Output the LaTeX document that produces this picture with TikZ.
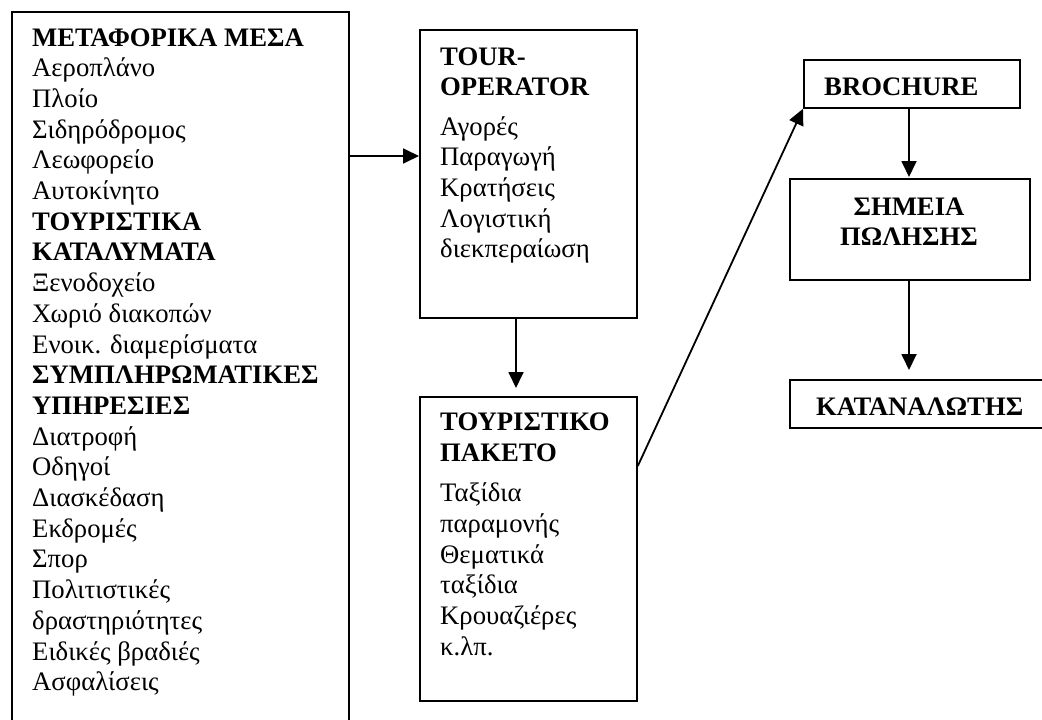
\documentclass[tikz,border=0pt]{standalone}
\usepackage{fontspec}
\setmainfont{Liberation Serif}
\usetikzlibrary{arrows.meta}
\begin{document}
\begin{tikzpicture}[x=1pt,y=-1pt,
  box/.style={draw, line width=1.8pt, rectangle, inner sep=0pt, anchor=north west},
  txt/.style={anchor=base west, inner sep=0pt, font=\fontsize{26.7}{30.7}\selectfont},
  btxt/.style={txt, font=\fontsize{26.7}{30.7}\selectfont\bfseries},
  arr/.style={line width=1.8pt, -{Triangle[length=16pt,width=15pt]}}]
\useasboundingbox (0,0) rectangle (1042,720);
\clip (0,0) rectangle (1042,720);
\fill[white] (0,0) rectangle (1042,720);
% boxes
\node[box, minimum width=337pt, minimum height=740pt] (lb) at (11,11) {};
\node[box, minimum width=217pt, minimum height=288pt] (tour) at (419,29) {};
\node[box, minimum width=217pt, minimum height=304pt] (pak) at (419,396) {};
\node[box, minimum width=216pt, minimum height=48pt] (bro) at (803,59) {};
\node[box, minimum width=240pt, minimum height=101pt] (sim) at (789,178) {};
\node[box, minimum width=270pt, minimum height=48pt] (kat) at (789,379) {};
% left box text
\foreach \t/\s [count=\i from 0] in {ΜΕΤΑΦΟΡΙΚΑ ΜΕΣΑ/btxt, Αεροπλάνο/txt, Πλοίο/txt, Σιδηρόδρομος/txt, Λεωφορείο/txt, Αυτοκίνητο/txt, ΤΟΥΡΙΣΤΙΚΑ/btxt, ΚΑΤΑΛΥΜΑΤΑ/btxt, Ξενοδοχείο/txt, Χωριό διακοπών/txt, Ενοικ. διαμερίσματα/txt, ΣΥΜΠΛΗΡΩΜΑΤΙΚΕΣ/btxt, ΥΠΗΡΕΣΙΕΣ/btxt, Διατροφή/txt, Οδηγοί/txt, Διασκέδαση/txt, Εκδρομές/txt, Σπορ/txt, Πολιτιστικές/txt, δραστηριότητες/txt, Ειδικές βραδιές/txt, Ασφαλίσεις/txt}
  \node[style=\s] (l\i) at (32,46+30.7*\i) {\t};
% tour operator text
\node[btxt] (th1) at (440,65) {TOUR-};
\node[btxt] (th2) at (440,95) {OPERATOR};
\foreach \t [count=\i from 0] in {Αγορές, Παραγωγή, Κρατήσεις, Λογιστική, διεκπεραίωση}
  \node[txt] (t\i) at (440,135+30.7*\i) {\t};
% package text
\node[btxt] (ph1) at (440,430) {ΤΟΥΡΙΣΤΙΚΟ};
\node[btxt] (ph2) at (440,461) {ΠΑΚΕΤΟ};
\foreach \t [count=\i from 0] in {Ταξίδια, παραμονής, Θεματικά, ταξίδια, Κρουαζιέρες, κ.λπ.}
  \node[txt] (p\i) at (440,501.7+30.7*\i) {\t};
% right column text
\node[btxt] (bt) at (824,95) {BROCHURE};
\node[btxt, anchor=base] (s1) at (909,215.7) {ΣΗΜΕΙΑ};
\node[btxt, anchor=base] (s2) at (909,245.7) {ΠΩΛΗΣΗΣ};
\node[btxt] (kt) at (816,415) {ΚΑΤΑΝΑΛΩΤΗΣ};
% connectors
\coordinate (y1) at (0,156);
\coordinate (x1) at (516,0);
\coordinate (y2) at (0,466);
\coordinate (x2) at (909,0);
\draw[arr] (lb.east |- y1) -- (tour.west |- y1);
\draw[arr, shorten >=8pt] (tour.south -| x1) -- (pak.north -| x1);
\draw[arr] (pak.east |- y2) -- (bro.south west);
\draw[arr, shorten >=1pt] (bro.south -| x2) -- (sim.north -| x2);
\draw[arr, shorten >=9pt] (sim.south -| x2) -- (kat.north -| x2);
\end{tikzpicture}
\end{document}
